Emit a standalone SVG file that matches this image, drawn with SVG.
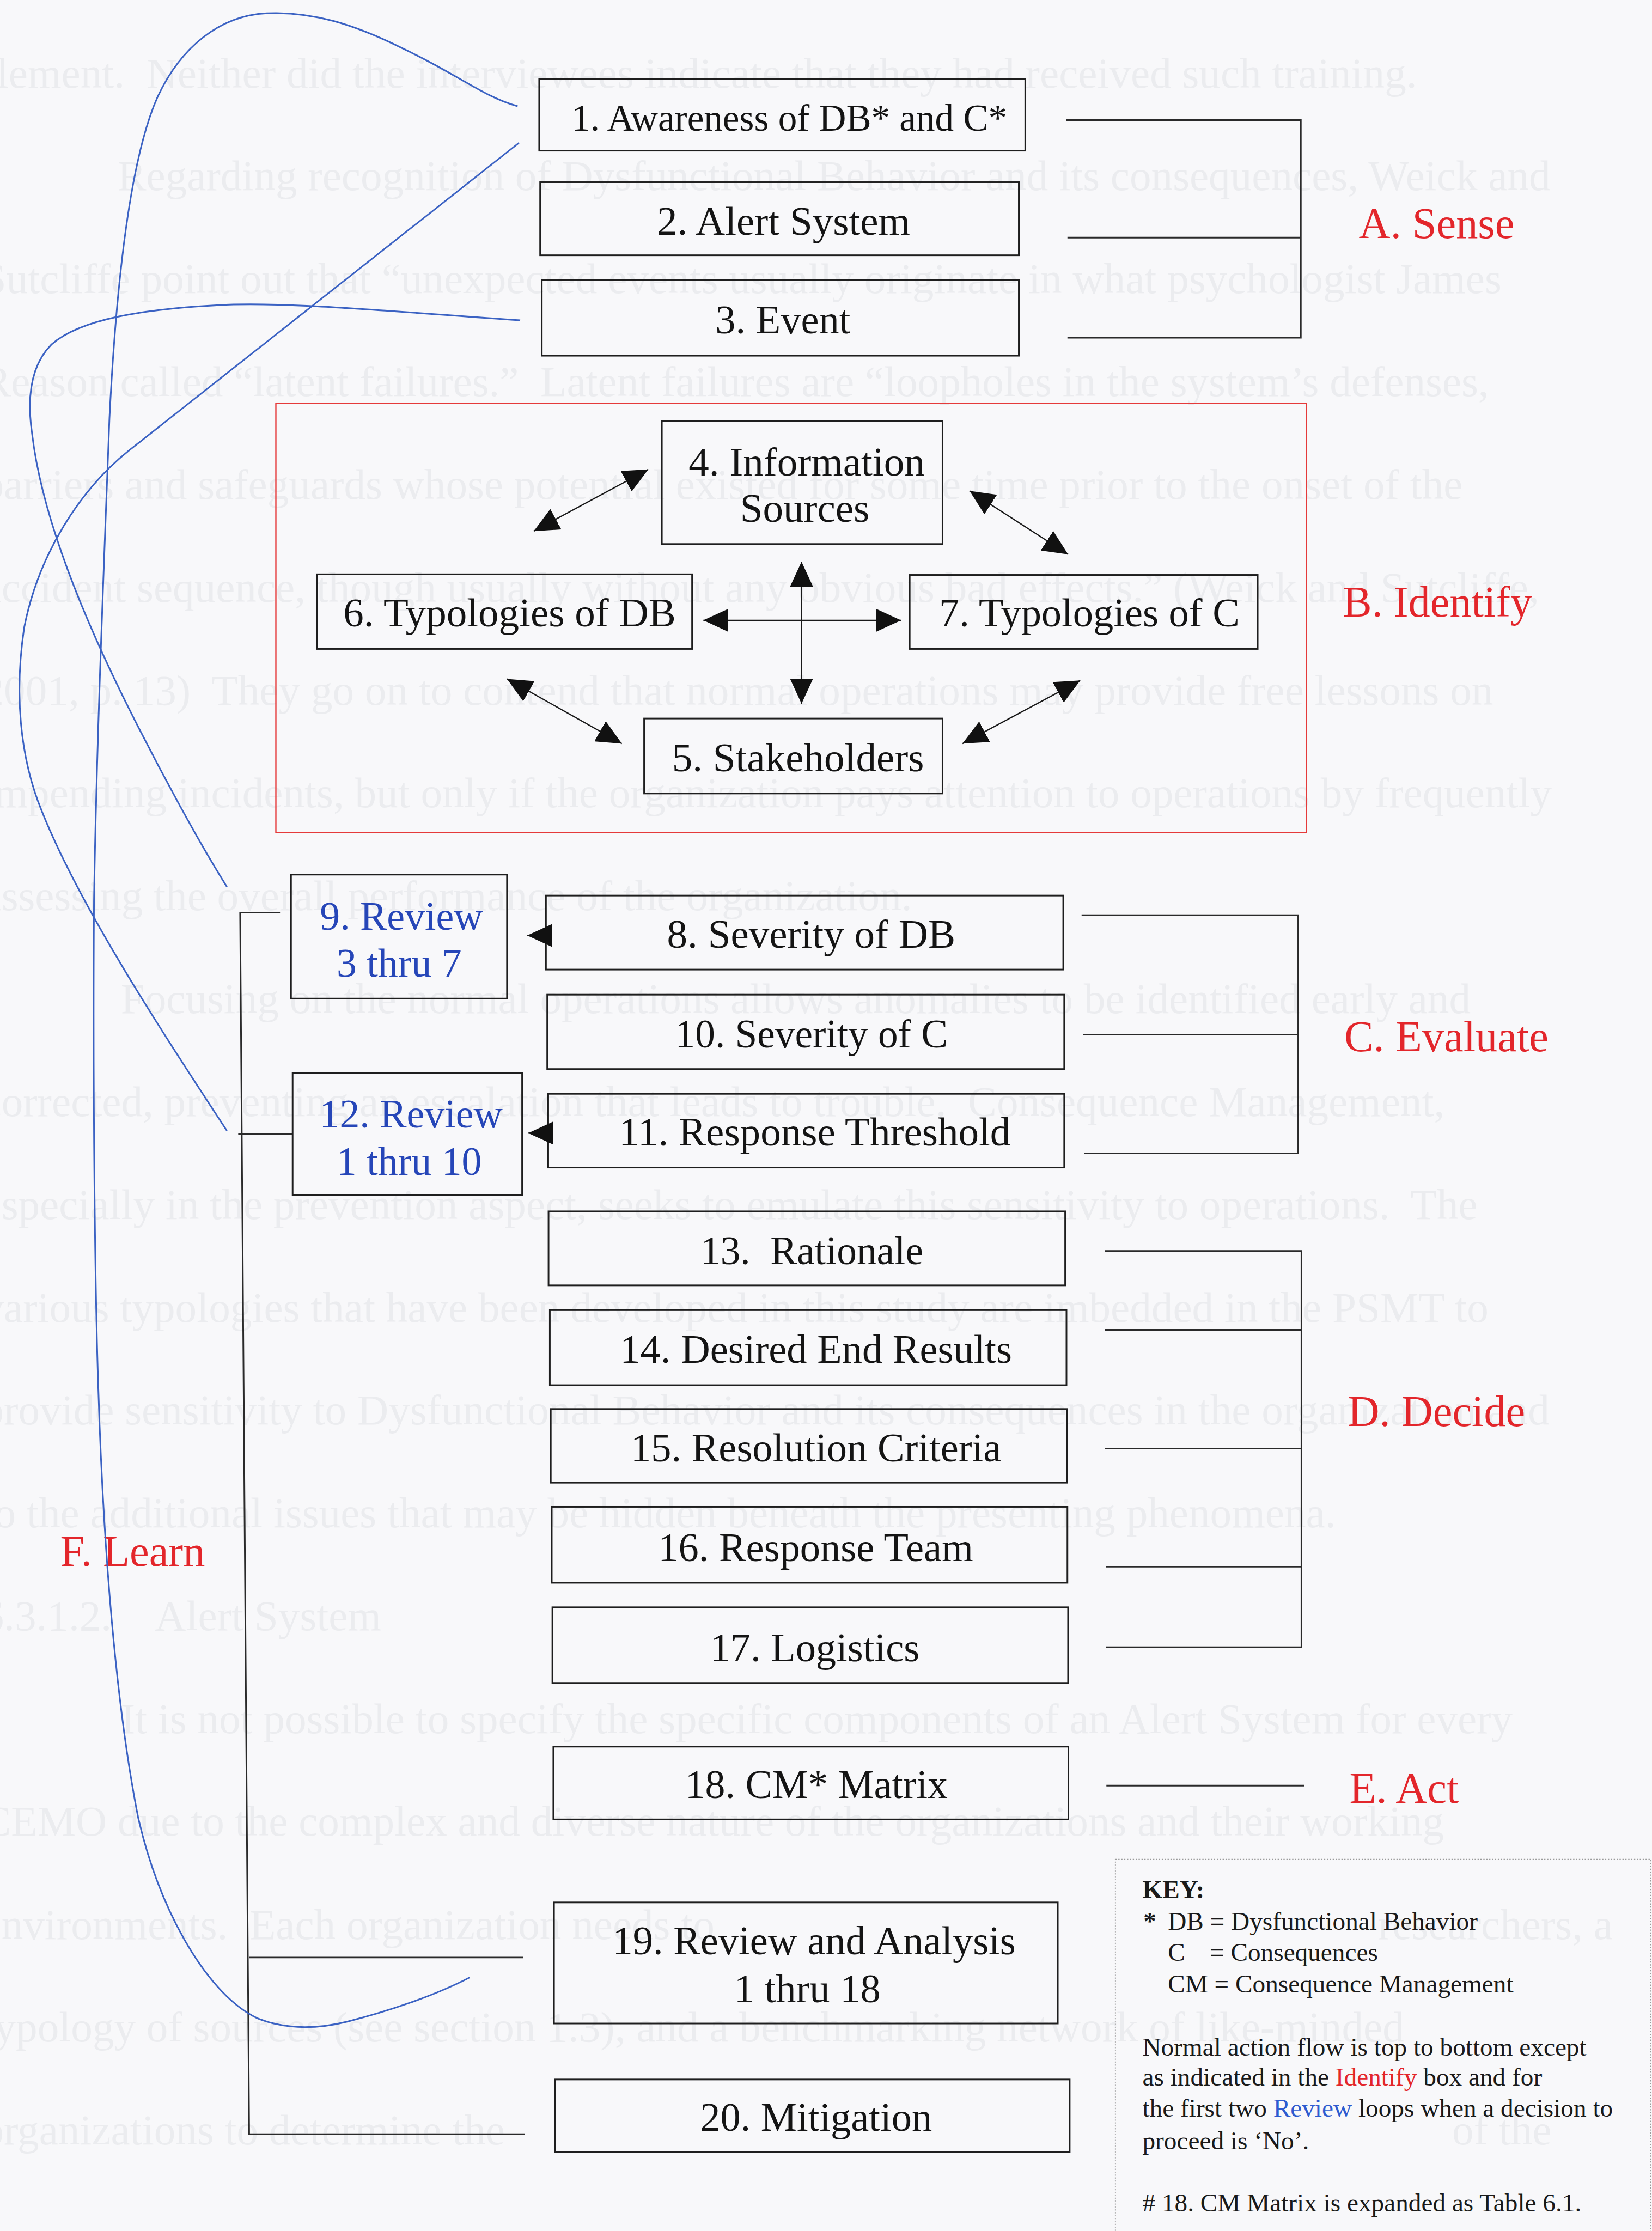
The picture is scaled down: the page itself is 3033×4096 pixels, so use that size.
<svg xmlns="http://www.w3.org/2000/svg" width="3033" height="4096" viewBox="0 0 3033 4096">
<style>
.bg{font-family:"Liberation Serif","Times New Roman",serif;font-size:134px;fill:#ebecef}
.box{fill:none;stroke:#1e1e1e;stroke-width:5}
.t{font-family:"Liberation Serif","Times New Roman",serif;fill:#141414;text-anchor:middle}
.bt{font-family:"Liberation Serif","Times New Roman",serif;fill:#2646b8;text-anchor:middle;font-size:125px}
.sec{font-family:"Liberation Serif","Times New Roman",serif;fill:#e3262b;font-size:136px}
.key{font-family:"Liberation Serif","Times New Roman",serif;fill:#1a1a1a;font-size:80px}
.conn{stroke:#1a1a1a;stroke-width:4;fill:none}
.loop{stroke:#3b62c3;stroke-width:5;fill:none}
.brk{stroke:#2a2a2a;stroke-width:5;fill:none}
</style>
<defs>
<marker id="ah" markerUnits="userSpaceOnUse" viewBox="0 0 78 72" refX="78" refY="36" markerWidth="78" markerHeight="72" orient="auto-start-reverse">
<path d="M0,0 L78,36 L0,72 z" fill="#111"/>
</marker>
</defs>
<rect x="0" y="0" width="3033" height="4096" fill="#f8f8fa"/>
<g transform="scale(0.591)">
<g id="page-text">
<text class="bg" x="-70" y="272" xml:space="preserve">element.  Neither did the interviewees indicate that they had received such training.</text>
<text class="bg" x="365" y="591">Regarding recognition of Dysfunctional Behavior and its consequences, Weick and</text>
<text class="bg" x="-55" y="911">Sutcliffe point out that “unexpected events usually originate in what psychologist James</text>
<text class="bg" x="-55" y="1230" xml:space="preserve">Reason called “latent failures.”  Latent failures are “loopholes in the system’s defenses,</text>
<text class="bg" x="-55" y="1550">barriers and safeguards whose potential existed for some time prior to the onset of the</text>
<text class="bg" x="-55" y="1869">accident sequence, though usually without any obvious bad effects.” (Weick and Sutcliffe,</text>
<text class="bg" x="-55" y="2189" xml:space="preserve">2001, p. 13)  They go on to contend that normal operations may provide free lessons on</text>
<text class="bg" x="-55" y="2508">impending incidents, but only if the organization pays attention to operations by frequently</text>
<text class="bg" x="-55" y="2828">assessing the overall performance of the organization.</text>
<text class="bg" x="375" y="3147">Focusing on the normal operations allows anomalies to be identified early and</text>
<text class="bg" x="-55" y="3467" xml:space="preserve">corrected, preventing an escalation that leads to trouble.  Consequence Management,</text>
<text class="bg" x="-55" y="3786" xml:space="preserve">especially in the prevention aspect, seeks to emulate this sensitivity to operations.  The</text>
<text class="bg" x="-55" y="4106">various typologies that have been developed in this study are imbedded in the PSMT to</text>
<text class="bg" x="-55" y="4425">provide sensitivity to Dysfunctional Behavior and its consequences in the organization and</text>
<text class="bg" x="-55" y="4745">to the additional issues that may be hidden beneath the presenting phenomena.</text>
<text class="bg" x="-55" y="5064">6.3.1.2.</text>
<text class="bg" x="481" y="5064">Alert System</text>
<text class="bg" x="375" y="5384">It is not possible to specify the specific components of an Alert System for every</text>
<text class="bg" x="-55" y="5703">CEMO due to the complex and diverse nature of the organizations and their working</text>
<text class="bg" x="-55" y="6023" xml:space="preserve">environments.  Each organization needs to</text>
<text class="bg" x="5010" y="6023" text-anchor="end">researchers, a</text>
<text class="bg" x="-55" y="6342">typology of sources (see section 1.3), and a benchmarking network of like-minded</text>
<text class="bg" x="-55" y="6662">organizations to determine the</text>
<text class="bg" x="4820" y="6662" text-anchor="end">of the</text>
</g>

<g id="identify-frame">
<rect x="857" y="1253" width="3201" height="1333" fill="none" stroke="#e53a3a" stroke-width="4"/>
</g>

<g id="n1"><rect class="box" x="1675" y="246" width="1510" height="222"/><text class="t" x="2452" y="406" font-size="117">1. Awareness of DB* and C*</text></g>
<g id="n2"><rect class="box" x="1678" y="566" width="1487" height="227"/><text class="t" x="2434" y="730" font-size="127">2. Alert System</text></g>
<g id="n3"><rect class="box" x="1683" y="869" width="1482" height="236"/><text class="t" x="2432" y="1036" font-size="126">3. Event</text></g>
<g id="n4"><rect class="box" x="2056" y="1308" width="872" height="382"/><text class="t" x="2506" y="1477" font-size="127">4. Information</text><text class="t" x="2500" y="1621" font-size="127">Sources</text></g>
<g id="n5"><rect class="box" x="2001" y="2232" width="927" height="233"/><text class="t" x="2479" y="2396" font-size="127">5. Stakeholders</text></g>
<g id="n6"><rect class="box" x="985" y="1784" width="1165" height="232"/><text class="t" x="1583" y="1946" font-size="127">6. Typologies of DB</text></g>
<g id="n7"><rect class="box" x="2826" y="1786" width="1081" height="230"/><text class="t" x="3384" y="1946" font-size="126">7. Typologies of C</text></g>
<g id="n8"><rect class="box" x="1696" y="2782" width="1607" height="230"/><text class="t" x="2520" y="2945" font-size="127">8. Severity of DB</text></g>
<g id="n9"><rect class="box" x="904" y="2717" width="671" height="385"/><text class="bt" x="1247" y="2889">9. Review</text><text class="bt" x="1240" y="3034">3 thru 7</text></g>
<g id="n10"><rect class="box" x="1700" y="3090" width="1606" height="231"/><text class="t" x="2521" y="3253" font-size="124">10. Severity of C</text></g>
<g id="n11"><rect class="box" x="1703" y="3398" width="1603" height="229"/><text class="t" x="2531" y="3559" font-size="127">11. Response Threshold</text></g>
<g id="n12"><rect class="box" x="909" y="3333" width="713" height="379"/><text class="bt" x="1277" y="3503">12. Review</text><text class="bt" x="1271" y="3649">1 thru 10</text></g>
<g id="n13"><rect class="box" x="1704" y="3763" width="1605" height="230"/><text class="t" x="2522" y="3927" font-size="124" xml:space="preserve">13.  Rationale</text></g>
<g id="n14"><rect class="box" x="1708" y="4070" width="1605" height="233"/><text class="t" x="2535" y="4233" font-size="126">14. Desired End Results</text></g>
<g id="n15"><rect class="box" x="1711" y="4377" width="1603" height="229"/><text class="t" x="2535" y="4539" font-size="126">15. Resolution Criteria</text></g>
<g id="n16"><rect class="box" x="1714" y="4681" width="1602" height="236"/><text class="t" x="2534" y="4850" font-size="126">16. Response Team</text></g>
<g id="n17"><rect class="box" x="1716" y="4993" width="1602" height="235"/><text class="t" x="2531" y="5161" font-size="126">17. Logistics</text></g>
<g id="n18"><rect class="box" x="1719" y="5426" width="1600" height="226"/><text class="t" x="2536" y="5585" font-size="125">18. CM* Matrix</text></g>
<g id="n19"><rect class="box" x="1721" y="5910" width="1565" height="376"/><text class="t" x="2529" y="6071" font-size="126">19. Review and Analysis</text><text class="t" x="2508" y="6220" font-size="126">1 thru 18</text></g>
<g id="n20"><rect class="box" x="1724" y="6460" width="1599" height="226"/><text class="t" x="2535" y="6619" font-size="126">20. Mitigation</text></g>

<g id="section-labels">
<text class="sec" x="4221" y="740">A. Sense</text>
<text class="sec" x="4171" y="1916">B. Identify</text>
<text class="sec" x="4176" y="3265">C. Evaluate</text>
<text class="sec" x="4187" y="4429">D. Decide</text>
<text class="sec" x="4192" y="5600">E. Act</text>
<text class="sec" x="187" y="4865">F. Learn</text>
</g>

<g id="connectors">
<path class="conn" d="M2014,1458 L1658,1650" marker-start="url(#ah)" marker-end="url(#ah)"/>
<path class="conn" d="M3012,1525 L3318,1722" marker-start="url(#ah)" marker-end="url(#ah)"/>
<path class="conn" d="M1575,2109 L1932,2310" marker-start="url(#ah)" marker-end="url(#ah)"/>
<path class="conn" d="M3356,2114 L2990,2310" marker-start="url(#ah)" marker-end="url(#ah)"/>
<path class="conn" d="M2490,1745 L2490,2186" marker-start="url(#ah)" marker-end="url(#ah)"/>
<path class="conn" d="M2185,1927 L2799,1927" marker-start="url(#ah)" marker-end="url(#ah)"/>
<path class="conn" d="M1700,2906 L1638,2906" marker-end="url(#ah)"/>
<path class="conn" d="M1705,3520 L1641,3520" marker-end="url(#ah)"/>
<path class="brk" d="M3313,373 H4041 V1049 H3316 M3316,738 H4041"/>
<path class="brk" d="M3360,2843 H4033 V3583 H3368 M3365,3214 H4033"/>
<path class="brk" d="M3432,3886 H4043 V5117 H3435 M3432,4131 H4043 M3432,4500 H4043 M3435,4867 H4043"/>
<path class="brk" d="M3437,5547 H4051"/>
<path class="brk" d="M870,2835 H746 L774,6630 H1630 M740,3523 H909 M774,6081 H1625"/>
<path class="loop" d="M1608,330 C1500,300 1420,230 1250,150 C1100,75 970,35 829,41 C680,48 560,150 490,300 C400,500 360,900 340,1300 C325,1700 300,2300 292,2800 C288,3400 295,4000 305,4300 C320,4800 360,5300 430,5650 C500,5950 650,6200 800,6270 C900,6310 1000,6300 1080,6280 C1200,6250 1350,6200 1459,6143"/>
<path class="loop" d="M1612,444 L400,1400 C250,1520 120,1720 75,1950 C45,2150 60,2350 130,2520 C250,2820 500,3200 705,3513"/>
<path class="loop" d="M1616,995 C1300,975 900,935 680,948 C450,960 250,990 160,1070 C90,1140 85,1250 100,1350 C130,1600 250,1900 400,2200 C500,2400 620,2620 705,2755"/>
</g>

<g id="key">
<rect x="3465" y="5776" width="1663" height="1200" fill="none" stroke="#9a9a9a" stroke-width="3" stroke-dasharray="4 5"/>
<text class="key" x="3549" y="5897" font-weight="bold">KEY:</text>
<text class="key" x="3552" y="5995" font-weight="bold">*</text>
<text class="key" x="3628" y="5995">DB = Dysfunctional Behavior</text>
<text class="key" x="3628" y="6092">C</text>
<text class="key" x="3758" y="6092">= Consequences</text>
<text class="key" x="3628" y="6190">CM = Consequence Management</text>
<text class="key" x="3549" y="6385">Normal action flow is top to bottom except</text>
<text class="key" x="3549" y="6479">as indicated in the <tspan fill="#e3262b">Identify</tspan> box and for</text>
<text class="key" x="3549" y="6576">the first two <tspan fill="#2d5bd0">Review</tspan> loops when a decision to</text>
<text class="key" x="3549" y="6677">proceed is ‘No’.</text>
<text class="key" x="3549" y="6869"># 18. CM Matrix is expanded as Table 6.1.</text>
</g>
</g>
</svg>
